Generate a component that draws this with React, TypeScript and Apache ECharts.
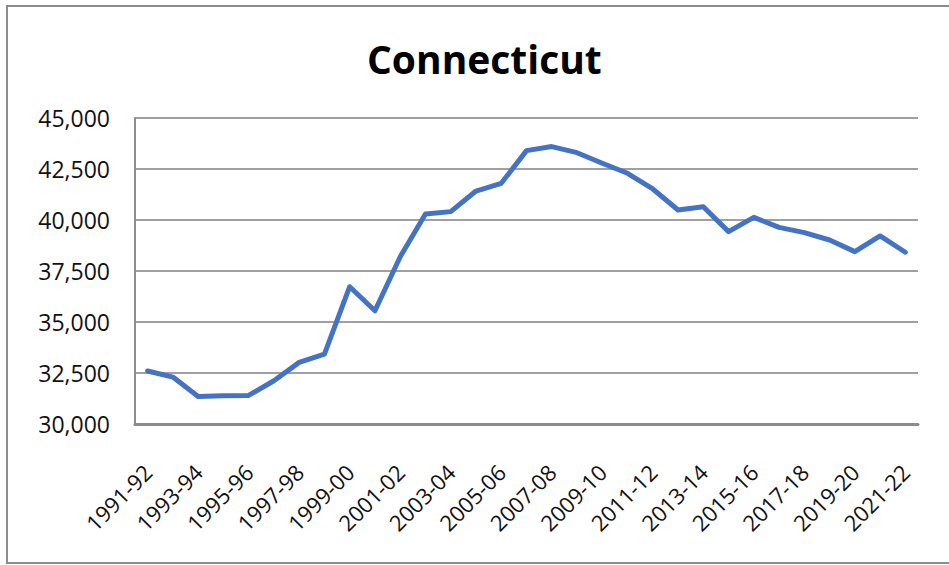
import React, { useEffect, useRef } from "react";
import * as echarts from "echarts";

const title = "Connecticut";

const seasons = [
  "1991-92", "1992-93", "1993-94", "1994-95", "1995-96", "1996-97", "1997-98",
  "1998-99", "1999-00", "2000-01", "2001-02", "2002-03", "2003-04", "2004-05",
  "2005-06", "2006-07", "2007-08", "2008-09", "2009-10", "2010-11", "2011-12",
  "2012-13", "2013-14", "2014-15", "2015-16", "2016-17", "2017-18", "2018-19",
  "2019-20", "2020-21", "2021-22",
];

const values = [
  32600, 32300, 31350, 31380, 31400, 32120, 33020, 33420, 36730, 35550, 38200,
  40290, 40410, 41420, 41800, 43400, 43600, 43300, 42780, 42290, 41520, 40490,
  40650, 39430, 40130, 39640, 39380, 39020, 38450, 39220, 38420,
];

const yMin = 30000;
const yMax = 45000;
const yStep = 2500;

const FONT = "'Open Sans', 'Noto Sans', sans-serif";

export default function App() {
  const ref = useRef<HTMLDivElement>(null);

  useEffect(() => {
    if (!ref.current) return;
    const chart = echarts.init(ref.current, undefined, { renderer: "svg" });
    chart.setOption({
      animation: false,
      backgroundColor: "#ffffff",
      title: {
        text: title,
        left: 362,
        top: 34,
        textStyle: {
          fontFamily: FONT,
          fontSize: 39,
          fontWeight: "bold",
          color: "#000000",
        },
      },
      graphic: [
        {
          type: "rect",
          shape: { x: 7, y: 6, width: 960, height: 557 },
          style: { fill: "none", stroke: "#8c8c8c", lineWidth: 2 },
          silent: true,
        },
      ],
      grid: { left: 135, right: 31, top: 118, bottom: 141, containLabel: false },
      xAxis: {
        type: "category",
        data: seasons,
        boundaryGap: true,
        axisTick: { show: false },
        axisLine: { show: true, lineStyle: { color: "#8c8c8c", width: 3 } },
        axisLabel: {
          interval: 1,
          rotate: 45,
          margin: 44,
          fontFamily: FONT,
          fontSize: 22,
          color: "#111111",
        },
      },
      yAxis: {
        type: "value",
        min: yMin,
        max: yMax,
        interval: yStep,
        axisLine: { show: true, lineStyle: { color: "#8c8c8c", width: 2 } },
        axisTick: { show: false },
        splitLine: { show: true, lineStyle: { color: "#a0a0a0", width: 2 } },
        axisLabel: {
          margin: 25,
          fontFamily: FONT,
          fontSize: 23,
          color: "#111111",
          formatter: (v: number) => v.toLocaleString("en-US"),
        },
      },
      series: [
        {
          type: "line",
          data: values,
          showSymbol: false,
          symbol: "none",
          lineStyle: { color: "#4472C4", width: 5, cap: "round", join: "round" },
        },
      ],
    });
    return () => chart.dispose();
  }, []);

  return (
    <div
      ref={ref}
      style={{ position: "absolute", left: 0, top: 0, width: 949, height: 565 }}
    />
  );
}
